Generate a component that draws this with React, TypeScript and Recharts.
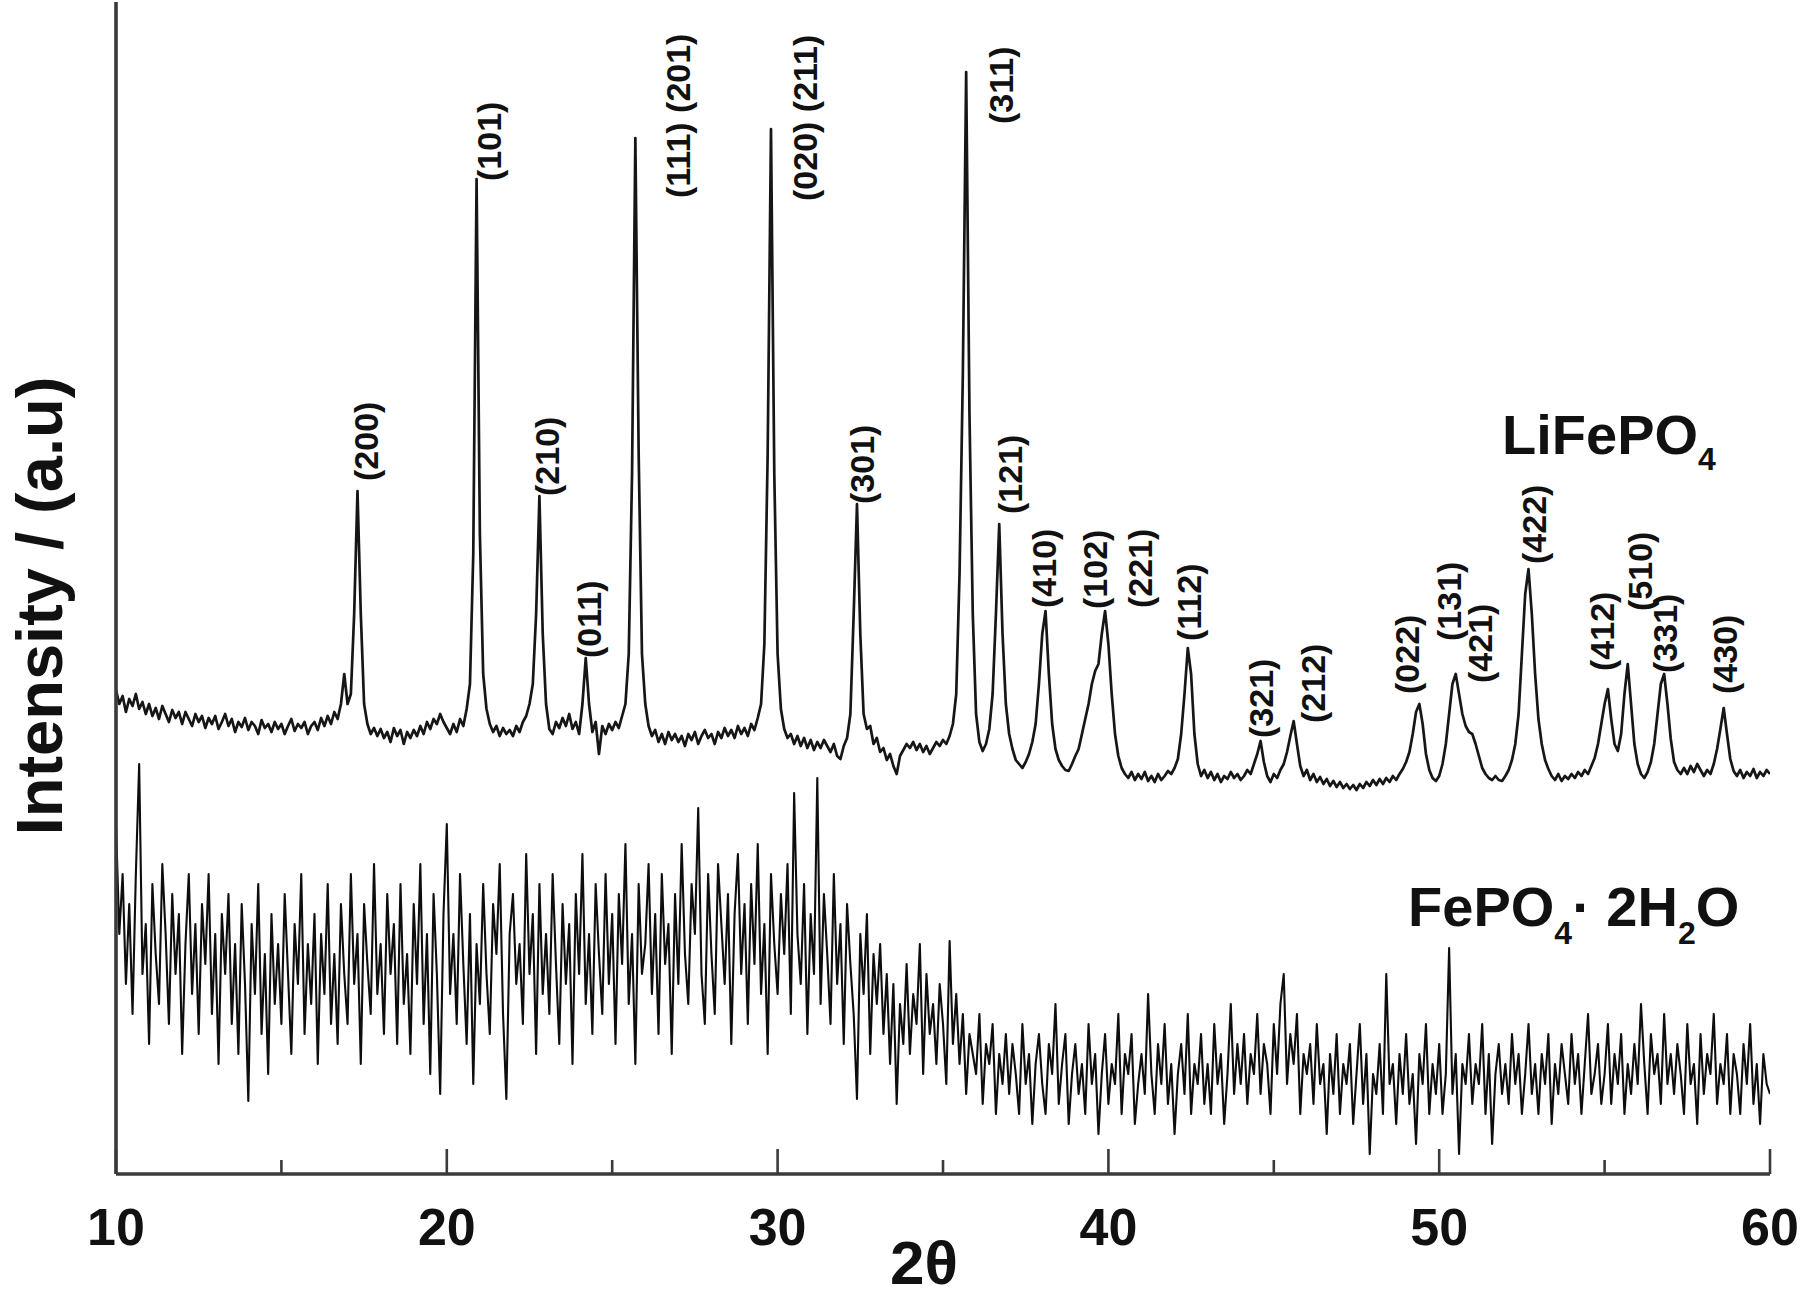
import React from 'react';
import { LineChart, Line, XAxis, YAxis, ReferenceDot } from 'recharts';

const FONT = '"Liberation Sans", Arial, Helvetica, sans-serif';
const INK = '#111';
const AXIS = '#3a3a3a';

// measurement grid (2θ, degrees)
const TWO_THETA_START = 10;
const TWO_THETA_STEP = 0.1;

const X_TICKS = [10, 15, 20, 25, 30, 35, 40, 45, 50, 55, 60];
const X_TICK_LABELS = ['10', '', '20', '', '30', '', '40', '', '50', '', '60'];

// LiFePO4 intensity (a.u.), 10.0 .. 60.0 step 0.1
const LIFEPO4 = [
  484, 470, 478, 462, 475, 468, 480, 465, 472, 460,
  470, 458, 466, 455, 468, 460, 452, 464, 456, 462,
  450, 462, 455, 448, 460, 452, 458, 446, 456, 450,
  458, 445, 452, 460, 448, 455, 442, 452, 447, 456,
  444, 452, 448, 440, 454, 446, 450, 442, 452, 445,
  450, 440, 448, 455, 443, 450, 446, 452, 440, 448,
  452, 444, 456, 448, 458, 450, 462, 455, 470, 500,
  470, 480, 560, 683, 560, 470, 450, 440, 446, 438,
  445, 436, 442, 432, 446, 438, 444, 430, 442, 436,
  444, 438, 448, 440, 452, 445, 455, 450, 460, 452,
  446, 440, 450, 442, 455, 448, 465, 490, 620, 995,
  640, 500, 465, 450, 442, 448, 438, 446, 440, 444,
  438, 448, 442, 452, 458, 470, 490, 560, 678, 540,
  470, 445, 440, 452, 446, 456, 448, 460, 445, 452,
  440, 470, 516, 470, 442, 452, 420, 448, 440, 450,
  444, 452, 446, 458, 470, 520, 700, 1036, 720, 520,
  470, 448, 438, 444, 432, 440, 430, 442, 434, 440,
  432, 438, 428, 440, 434, 442, 430, 438, 444, 436,
  440, 430, 442, 436, 446, 438, 444, 436, 448, 440,
  446, 438, 450, 444, 456, 470, 530, 720, 1045, 700,
  520, 465, 445, 436, 440, 430, 438, 428, 436, 426,
  434, 424, 432, 426, 434, 428, 422, 430, 418, 415,
  428, 436, 460, 560, 670, 540, 460, 445, 448, 430,
  436, 422, 426, 414, 420, 408, 400, 418, 424, 430,
  426, 432, 424, 430, 422, 428, 420, 426, 432, 428,
  434, 430, 438, 450, 480, 600, 800, 1102, 760, 560,
  460, 432, 423, 430, 445, 480, 560, 650, 540, 470,
  440, 425, 414, 410, 406, 412, 420, 432, 450, 490,
  540, 563, 500, 450, 425, 414, 408, 404, 403, 410,
  418, 425, 440, 455, 470, 490, 503, 510, 540, 563,
  530, 480, 440, 418, 406, 400, 396, 402, 394, 400,
  395, 402, 393, 398, 392, 400, 394, 398, 403, 400,
  406, 415, 440, 480, 526, 500, 440, 410, 398, 404,
  396, 402, 394, 400, 392, 398, 395, 402, 396, 400,
  394, 398, 404, 400, 410, 420, 433, 412, 398, 392,
  400, 396, 404, 410, 422, 438, 453, 430, 408, 398,
  404, 394, 400, 392, 397, 390, 395, 388, 393, 387,
  392, 386, 390, 385, 389, 384, 390, 386, 392, 388,
  394, 389, 395, 390, 396, 392, 398, 394, 400, 405,
  412, 422, 440, 462, 470, 450, 420, 404, 396, 393,
  398, 410, 430, 460, 490, 500, 480, 460, 448, 442,
  440, 430, 418, 406, 400, 396, 394, 398, 394, 393,
  398, 404, 414, 430, 460, 520, 580, 605, 560, 500,
  455, 430, 414, 405, 398, 394, 400, 393, 398, 395,
  400, 396, 402, 398, 404, 400, 408, 416, 430, 450,
  470, 485, 455, 430, 423, 440, 480, 510, 470, 430,
  410, 400, 396, 402, 412, 430, 460, 490, 500, 470,
  435, 412, 404, 400, 406, 400, 408, 402, 410, 404,
  398, 404, 400, 410, 425, 445, 466, 440, 415, 403,
  398, 404, 396, 402, 398, 405, 396, 402, 398, 404,
  400,
];

// FePO4·2H2O intensity (a.u.), 10.0 .. 60.0 step 0.1
const FEPO4_2H2O = [
  350, 240, 300, 190, 270, 160, 300, 410, 200, 250,
  130, 290, 220, 170, 310, 240, 150, 280, 200, 260,
  120, 230, 300, 180, 250, 140, 270, 210, 300, 160,
  240, 110, 260, 200, 280, 150, 230, 120, 270, 190,
  73, 250, 180, 290, 140, 220, 100, 260, 170, 230,
  150, 280, 200, 120, 250, 190, 300, 140, 230, 170,
  260, 110, 240, 180, 290, 150, 220, 130, 270, 200,
  150, 300, 190, 240, 110, 270, 210, 160, 310, 180,
  230, 140, 280, 200, 250, 130, 290, 170, 220, 120,
  270, 190, 310, 150, 240, 100, 280, 200, 80, 260,
  350, 180, 240, 150, 300, 210, 130, 260, 90, 230,
  170, 290, 200, 140, 270, 220, 310, 160, 75, 240,
  280, 190, 230, 150, 320, 200, 260, 120, 290, 180,
  240, 160, 300, 210, 130, 270, 190, 250, 110, 280,
  200, 320, 170, 240, 140, 290, 220, 160, 300, 190,
  260, 130, 280, 210, 330, 170, 240, 110, 290, 200,
  230, 310, 180, 260, 140, 300, 210, 250, 120, 280,
  190, 330, 220, 170, 290, 240, 366, 200, 150, 300,
  220, 160, 310, 250, 190, 280, 130, 260, 320, 200,
  270, 150, 290, 210, 330, 180, 250, 120, 300, 230,
  180, 280, 220, 310, 160, 381, 240, 190, 290, 140,
  260, 200, 396, 170, 280, 220, 150, 300, 190, 250,
  130, 270, 210, 160, 75, 240, 180, 260, 120, 220,
  170, 230, 140, 200, 110, 190, 70, 170, 130, 210,
  120, 180, 150, 230, 100, 200, 140, 170, 110, 190,
  150, 90, 233, 130, 180, 110, 160, 80, 140, 120,
  100, 160, 70, 130, 110, 150, 60, 120, 90, 140,
  80, 130, 100, 60, 150, 90, 120, 50, 110, 140,
  90, 60, 130, 100, 170, 70, 110, 140, 50, 100,
  130, 80, 110, 60, 150, 90, 120, 40, 100, 140,
  70, 110, 90, 160, 60, 120, 100, 140, 50, 90,
  120, 80, 180, 100, 60, 130, 90, 150, 70, 110,
  40, 100, 130, 80, 160, 60, 110, 90, 140, 70,
  110, 60, 150, 90, 120, 50, 100, 170, 80, 130,
  90, 140, 70, 120, 100, 160, 80, 130, 110, 60,
  150, 100, 170, 200, 90, 140, 110, 160, 60, 120,
  100, 130, 70, 150, 90, 110, 40, 120, 80, 140,
  60, 110, 90, 130, 50, 100, 150, 70, 120, 20,
  100, 80, 130, 60, 200, 90, 110, 50, 120, 80,
  140, 70, 100, 30, 120, 90, 150, 60, 110, 80,
  130, 60, 100, 226, 80, 120, 20, 110, 90, 140,
  70, 110, 90, 150, 60, 120, 30, 100, 130, 80,
  110, 70, 140, 90, 120, 60, 100, 150, 80, 110,
  60, 120, 90, 140, 50, 110, 80, 130, 100, 70,
  140, 90, 120, 60, 110, 160, 80, 100, 130, 70,
  100, 150, 70, 120, 90, 140, 60, 110, 80, 130,
  90, 170, 110, 60, 140, 100, 120, 70, 160, 90,
  120, 80, 130, 100, 60, 150, 90, 110, 50, 140,
  80, 120, 100, 160, 70, 110, 90, 140, 60, 120,
  100, 60, 130, 90, 150, 70, 110, 50, 120, 90,
  80,
];

// Miller-index annotations: label, 2θ position, intensity at label foot
const HKL_LABELS = [
  '(200)', '(101)', '(210)', '(011)', '(111) (201)', '(020) (211)', '(301)', '(311)',
  '(121)', '(410)', '(102)', '(221)', '(112)', '(321)', '(212)', '(022)', '(131)',
  '(421)', '(422)', '(412)', '(510)', '(331)', '(430)',
];
const HKL_THETA = [
  17.55, 21.27, 23.02, 24.29, 27.0, 30.82, 32.54, 36.75,
  37.04, 38.04, 39.58, 40.97, 42.45, 44.6, 46.2, 49.03, 50.3,
  51.24, 52.87, 54.92, 56.07, 56.83, 58.64,
];
const HKL_INTENSITY = [
  693, 993, 678, 516, 976, 973, 670, 1050,
  660, 566, 565, 566, 533, 436, 451, 480, 533,
  491, 610, 503, 563, 501, 480,
];

// series name annotations
const SERIES_LABEL_THETA = [51.9, 49.06];
const SERIES_LABEL_INTENSITY = [720, 248];

const data = LIFEPO4.map((v, i) => ({
  t: Math.round((TWO_THETA_START + i * TWO_THETA_STEP) * 10) / 10,
  li: v,
  fe: FEPO4_2H2O[i],
}));

const BottomTick = (props: any) => {
  const { x, y, index } = props;
  const label = X_TICK_LABELS[index] ?? '';
  const major = label !== '';
  return (
    <g>
      <line x1={x} x2={x} y1={y} y2={y - (major ? 25 : 14)} stroke={AXIS} strokeWidth={2.6} />
      {major && (
        <text x={x} y={y + 71} textAnchor="middle" fontSize={52} fontWeight="bold" fontFamily={FONT} fill={INK}>
          {label}
        </text>
      )}
    </g>
  );
};

const TopTick = (props: any) => {
  const { x, y, index } = props;
  const major = (X_TICK_LABELS[index] ?? '') !== '';
  return <line x1={x} x2={x} y1={y} y2={y + (major ? 25 : 14)} stroke={AXIS} strokeWidth={2.6} />;
};

const hklShape = (label: string) => (p: any) => (
  <text
    x={p.cx}
    y={p.cy}
    transform={`rotate(-90 ${p.cx} ${p.cy})`}
    textAnchor="start"
    dominantBaseline="central"
    fontSize={34}
    fontWeight="bold"
    fontFamily={FONT}
    fill={INK}
  >
    {label}
  </text>
);

const liShape = (p: any) => (
  <text x={p.cx} y={p.cy} fontSize={56} fontWeight="bold" fontFamily={FONT} fill={INK}>
    LiFePO<tspan fontSize={32} dy={16}>4</tspan>
  </text>
);

const feShape = (p: any) => (
  <text x={p.cx} y={p.cy} fontSize={56} fontWeight="bold" fontFamily={FONT} fill={INK}>
    FePO<tspan fontSize={32} dy={18}>4</tspan>
    <tspan fontSize={56} dy={-18}>· 2H</tspan>
    <tspan fontSize={32} dy={18}>2</tspan>
    <tspan fontSize={56} dy={-18}>O</tspan>
  </text>
);

const yLabel = () => (
  <text
    x={62}
    y={606}
    transform="rotate(-90 62 606)"
    textAnchor="middle"
    fontSize={65}
    fontWeight="bold"
    fontFamily={FONT}
    fill={INK}
  >
    Intensity / (a.u)
  </text>
);

const xLabel = () => (
  <text x={924} y={1284} textAnchor="middle" fontSize={62} fontWeight="bold" fontFamily={FONT} fill={INK}>
    2θ
  </text>
);

export default function App() {
  const axisLine = { stroke: AXIS, strokeWidth: 3.6 };
  return (
    <div style={{ position: 'absolute', left: 0, top: 0, width: 1800, height: 1296, background: '#fff' }}>
      <LineChart width={1800} height={1296} data={data} margin={{ top: 2, right: 30, bottom: 0, left: 0 }}>
        <XAxis
          dataKey="t"
          type="number"
          domain={[10, 60]}
          ticks={X_TICKS}
          interval={0}
          height={122}
          tickSize={0}
          tickMargin={0}
          tickLine={false}
          tick={BottomTick}
          axisLine={axisLine}
          label={xLabel}
          allowDataOverflow
        />
        <XAxis
          xAxisId="top"
          orientation="top"
          type="number"
          domain={[10, 60]}
          ticks={X_TICKS}
          interval={0}
          height={0}
          tickSize={0}
          tickMargin={0}
          tickLine={false}
          tick={TopTick}
          axisLine={axisLine}
          allowDataOverflow
        />
        <YAxis
          type="number"
          domain={[0, 1172]}
          width={116}
          tick={false}
          tickLine={false}
          axisLine={axisLine}
          label={yLabel}
          allowDataOverflow
        />
        <YAxis
          yAxisId="right"
          orientation="right"
          type="number"
          domain={[0, 1172]}
          width={0}
          tick={false}
          tickLine={false}
          axisLine={axisLine}
        />
        <Line
          type="linear"
          dataKey="fe"
          name="FePO4·2H2O"
          stroke="#0d0d0d"
          strokeWidth={2.1}
          strokeLinejoin="round"
          dot={false}
          isAnimationActive={false}
        />
        <Line
          type="linear"
          dataKey="li"
          name="LiFePO4"
          stroke="#161616"
          strokeWidth={2.7}
          strokeLinejoin="round"
          dot={false}
          isAnimationActive={false}
        />
        {HKL_LABELS.map((lab, i) => (
          <ReferenceDot
            key={lab}
            x={HKL_THETA[i]}
            y={HKL_INTENSITY[i]}
            r={1}
            ifOverflow="visible"
            shape={hklShape(lab)}
          />
        ))}
        <ReferenceDot x={SERIES_LABEL_THETA[0]} y={SERIES_LABEL_INTENSITY[0]} r={1} ifOverflow="visible" shape={liShape} />
        <ReferenceDot x={SERIES_LABEL_THETA[1]} y={SERIES_LABEL_INTENSITY[1]} r={1} ifOverflow="visible" shape={feShape} />
      </LineChart>
    </div>
  );
}
